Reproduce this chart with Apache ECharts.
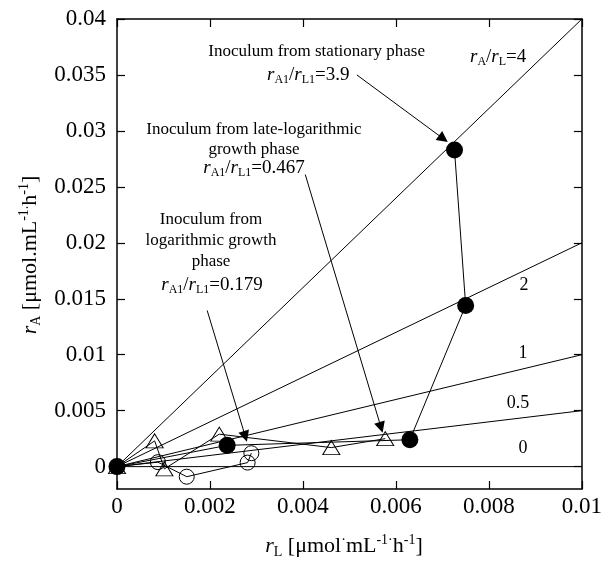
<!DOCTYPE html>
<html><head><meta charset="utf-8">
<script src="https://cdn.jsdelivr.net/npm/echarts@6/dist/echarts.min.js"></script>
<style>html,body{margin:0;padding:0;background:#fff}#c{width:605px;height:561px}</style>
</head><body><div id="c"></div>
<script>
// ---- data ----
const xTickValues = [0, 0.002, 0.004, 0.006, 0.008, 0.01];
const yTickValues = [0, 0.005, 0.01, 0.015, 0.02, 0.025, 0.03, 0.035, 0.04];
const ratioValues = [4, 2, 1, 0.5, 0];
// Inoculum from logarithmic growth phase (open circles)
const logX = [0, 0.00088, 0.0015, 0.00281, 0.00289];
const logY = [0, 0.0004, -0.0009, 0.00036, 0.0012];
// Inoculum from late-logarithmic growth phase (open triangles)
const lateX = [0, 0.00081, 0.00102, 0.0022, 0.00461, 0.00577];
const lateY = [0, 0.0023, -0.0002, 0.0029, 0.0017, 0.0025];
// Inoculum from stationary phase (filled circles)
const statX = [0, 0.00237, 0.0063, 0.0075, 0.00726];
const statY = [0, 0.0019, 0.0024, 0.0144, 0.0283];
// annotation arrows (data coordinates: start, end)
const arrowFrom = [[0.00516, 0.0350], [0.00405, 0.0261], [0.00194, 0.01395]];
const arrowTo   = [[0.00702, 0.0293], [0.00568, 0.0035], [0.00276, 0.0027]];

const FF = "'Liberation Serif','Times New Roman',serif";
const X_MIN = 0, X_MAX = 0.01, Y_MIN = -0.002, Y_MAX = 0.04;

function zip(a, b) { return a.map((v, i) => [v, b[i]]); }
function fmt(v) { return String(+(+v).toFixed(6)); }

function richSet(main, sub) {
  const pad = Math.round(main * 0.55);
  return {
    i: {fontFamily: FF, fontSize: main, fontStyle: 'italic', fill: '#000', lineHeight: main + 4},
    n: {fontFamily: FF, fontSize: main, fill: '#000', lineHeight: main + 4},
    s: {fontFamily: FF, fontSize: sub, fill: '#000', lineHeight: sub + 2, padding: [pad, 0, 0, 0]},
    p: {fontFamily: FF, fontSize: sub, fill: '#000', lineHeight: sub + 2, padding: [0, 0, pad, 0]}
  };
}
function txt(text, x, y, size, align, extra) {
  return Object.assign({
    type: 'text', x: x, y: y, silent: true, z: 100,
    style: {text: text, fill: '#000', fontFamily: FF, fontSize: size, align: align || 'center', verticalAlign: 'middle'}
  }, extra || {});
}
function rtxt(text, x, y, main, sub, align, extra) {
  return Object.assign({
    type: 'text', x: x, y: y, silent: true, z: 100,
    style: {text: text, fill: '#000', fontFamily: FF, fontSize: main, align: align || 'center', verticalAlign: 'middle', rich: richSet(main, sub)}
  }, extra || {});
}

const axisLineStyle = {color: '#000', width: 1.5};
const tickStyle = {color: '#000', width: 1.2};

const series = [];
ratioValues.forEach(k => {
  series.push({type: 'line', data: [[X_MIN, k * X_MIN], [X_MAX, k * X_MAX]], symbol: 'none',
    lineStyle: {color: '#000', width: 1}, silent: true, z: 2});
});
series.push({type: 'line', name: 'log', data: zip(logX, logY), symbol: 'circle', symbolSize: 15,
  itemStyle: {color: 'rgba(255,255,255,0)', borderColor: '#000', borderWidth: 1},
  lineStyle: {color: '#000', width: 1}, z: 3, silent: true});
series.push({type: 'line', name: 'late', data: zip(lateX, lateY), symbol: 'triangle', symbolSize: [17, 14],
  itemStyle: {color: 'rgba(255,255,255,0)', borderColor: '#000', borderWidth: 1},
  lineStyle: {color: '#000', width: 1}, z: 4, silent: true});
series.push({type: 'line', name: 'stat', data: zip(statX, statY), symbol: 'circle', symbolSize: 17,
  itemStyle: {color: '#000', borderColor: '#000', borderWidth: 0},
  lineStyle: {color: '#000', width: 1}, z: 5, silent: true});
series.push({type: 'line', name: 'arrows', data: [], silent: true, z: 6,
  markLine: {silent: true, symbol: ['none', 'triangle'], symbolSize: 11, animation: false,
    label: {show: false}, lineStyle: {color: '#000', width: 1, type: 'solid'},
    emphasis: {disabled: true},
    data: arrowFrom.map((f, i) => [{coord: f}, {coord: arrowTo[i]}])}});

const graphics = [
  // ratio line labels
  rtxt('{i|r}{s|A}{n|/}{i|r}{s|L}{n|=4}', 470, 57, 19, 12, 'left'),
  txt('2', 524, 285, 18),
  txt('1', 523, 353, 18),
  txt('0.5', 518, 403, 18),
  txt('0', 523, 448, 18),
  // annotation 1
  txt('Inoculum from stationary phase', 425, 52, 17, 'right'),
  rtxt('{i|r}{s|A1}{n|/}{i|r}{s|L1}{n|=3.9}', 267, 75, 19, 12, 'left'),
  // annotation 2
  txt('Inoculum from late-logarithmic', 254, 130, 17),
  txt('growth phase', 254, 150, 17),
  rtxt('{i|r}{s|A1}{n|/}{i|r}{s|L1}{n|=0.467}', 254, 168, 19, 12),
  // annotation 3
  txt('Inoculum from', 211, 220, 17),
  txt('logarithmic growth', 211, 241, 17),
  txt('phase', 211, 262, 17),
  rtxt('{i|r}{s|A1}{n|/}{i|r}{s|L1}{n|=0.179}', 212, 285, 19, 12),
  // axis titles
  rtxt('{i|r}{s|L}{n| [μmol}{p|·}{n|mL}{p|-1·}{n|h}{p|-1}{n|]}', 344, 546, 22, 14),
  rtxt('{i|r}{s|A}{n| [μmol.mL}{p|-1.}{n|h}{p|-1}{n|]}', 30, 255, 22, 14, 'center', {rotation: Math.PI / 2})
];

const chart = echarts.init(document.getElementById('c'), null, {renderer: 'canvas'});
chart.setOption({
  animation: false,
  backgroundColor: '#fff',
  grid: {left: 117, right: 19, top: 19, bottom: 72, containLabel: false},
  xAxis: [
    {type: 'value', min: X_MIN, max: X_MAX, interval: 0.002, position: 'bottom',
      axisLine: {show: true, onZero: false, lineStyle: axisLineStyle},
      axisTick: {show: true, inside: true, length: 8, lineStyle: tickStyle, customValues: xTickValues},
      axisLabel: {show: true, margin: 6, fontFamily: FF, fontSize: 23, color: '#000', formatter: fmt, customValues: xTickValues},
      splitLine: {show: false}},
    {type: 'value', min: X_MIN, max: X_MAX, interval: 0.002, position: 'top',
      axisLine: {show: true, onZero: false, lineStyle: axisLineStyle},
      axisTick: {show: true, inside: true, length: 8, lineStyle: tickStyle, customValues: xTickValues},
      axisLabel: {show: false}, splitLine: {show: false}}
  ],
  yAxis: [
    {type: 'value', min: Y_MIN, max: Y_MAX, position: 'left',
      axisLine: {show: true, onZero: false, lineStyle: axisLineStyle},
      axisTick: {show: true, inside: true, length: 8, lineStyle: tickStyle, customValues: yTickValues},
      axisLabel: {show: true, margin: 11, fontFamily: FF, fontSize: 23, color: '#000', formatter: fmt, customValues: yTickValues},
      splitLine: {show: false}},
    {type: 'value', min: Y_MIN, max: Y_MAX, position: 'right',
      axisLine: {show: true, onZero: false, lineStyle: axisLineStyle},
      axisTick: {show: true, inside: true, length: 8, lineStyle: tickStyle, customValues: yTickValues},
      axisLabel: {show: false}, splitLine: {show: false}}
  ],
  series: series,
  graphic: graphics
});
</script>
</body></html>
